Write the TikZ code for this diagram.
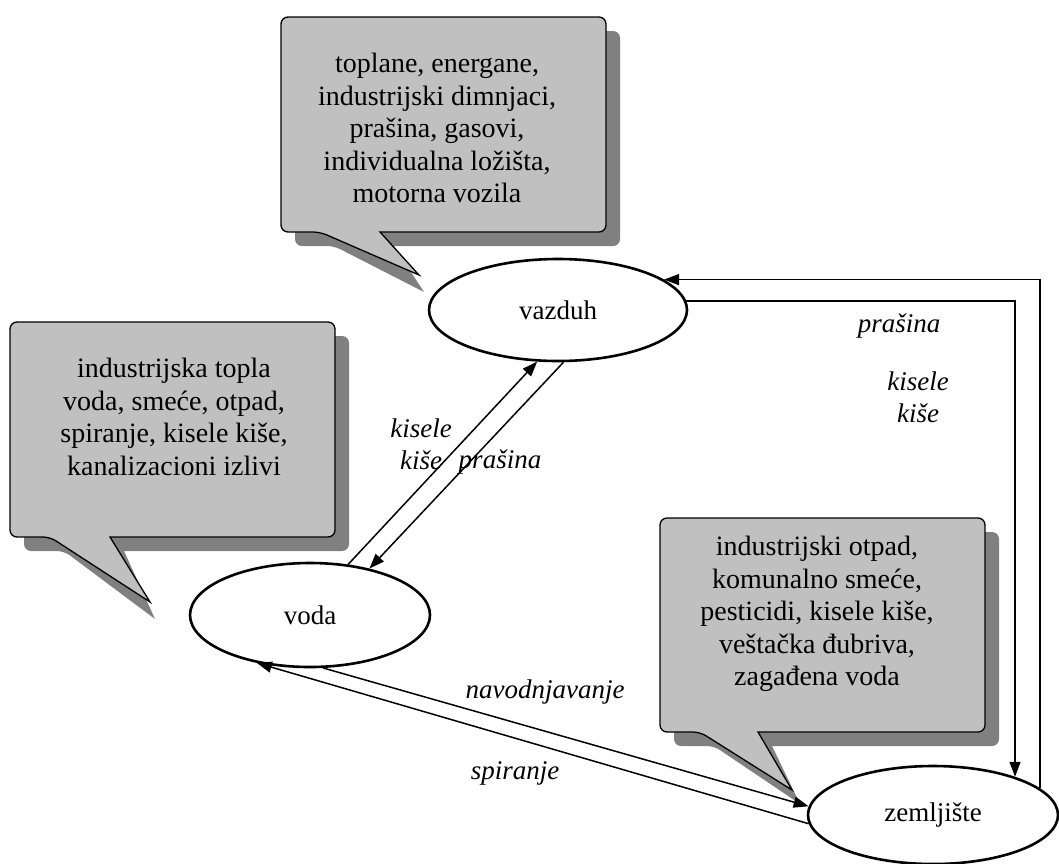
\documentclass[tikz,border=0pt]{standalone}
\usepackage{fontspec}
\setmainfont{Liberation Serif}
\usetikzlibrary{arrows.meta,shapes.geometric}
\definecolor{bubblegray}{RGB}{192,192,192}
\definecolor{shadegray}{RGB}{128,128,128}

\begin{document}
\begin{tikzpicture}[x=1pt,y=-1pt,
    font=\fontsize{27}{32.5}\selectfont,
    place/.style={draw,ellipse,line width=2.6pt,fill=white,inner sep=0pt},
    bubble/.style={draw,line width=1.3pt,fill=bubblegray},
    shade/.style={fill=shadegray},
    note/.style={align=center,font=\fontsize{28}{32.5}\selectfont},
    flow/.style={line width=1.5pt,-{Triangle[length=15pt,width=11pt]}},
    lbl/.style={font=\fontsize{27}{32}\selectfont\itshape,align=center}]
  \useasboundingbox (0,0) rectangle (1059,863);
  % oblaci sa izvorima
  \fill[shade] (394,246) [rounded corners=7pt] -- (620,246) -- (620,31) -- (295,31) -- (295,246) -- (334,246) [sharp corners] -- (424,292) -- cycle;
  \draw[bubble] (380,232) [rounded corners=7pt] -- (606,232) -- (606,17) -- (281,17) -- (281,232) -- (320,232) [sharp corners] -- (419,275) -- cycle;
  \fill[shade] (124,551) [rounded corners=7pt] -- (349,551) -- (349,336) -- (24,336) -- (24,551) -- (64,551) [sharp corners] -- (155,619) -- cycle;
  \draw[bubble] (110,537) [rounded corners=7pt] -- (335,537) -- (335,322) -- (10,322) -- (10,537) -- (50,537) [sharp corners] -- (150,602) -- cycle;
  \fill[shade] (772,746) [rounded corners=7pt] -- (999,746) -- (999,532) -- (674,532) -- (674,746) -- (714,746) [sharp corners] -- (800,804) -- cycle;
  \draw[bubble] (758,732) [rounded corners=7pt] -- (985,732) -- (985,518) -- (660,518) -- (660,732) -- (700,732) [sharp corners] -- (792,790) -- cycle;
  \node[note] (airsrc) at (437,128) {toplane, energane,\\industrijski dimnjaci,\\prašina, gasovi,\\individualna ložišta,\\motorna vozila};
  \node[note] (watsrc) at (174,417) {industrijska topla\\voda, smeće, otpad,\\spiranje, kisele kiše,\\kanalizacioni izlivi};
  \node[note] (soilsrc) at (817,614) {industrijski otpad,\\komunalno smeće,\\pesticidi, kisele kiše,\\veštačka đubriva,\\zagađena voda};
  % sredine
  \node[place,minimum width=258pt,minimum height=102pt] (vazduh) at (558,310) {vazduh};
  \node[place,minimum width=240pt,minimum height=104pt] (voda) at (310,615) {voda};
  \node[place,minimum width=250pt,minimum height=98pt] (zem) at (933,815) {zemljište};
  % tokovi
  \draw[flow] (voda.53) -- (vazduh.-112);
  \draw[flow] (vazduh.-84) -- (voda.38);
  \draw[flow] (voda.-76) -- (zem.176);
  \draw[flow] (zem.184) -- (voda.222);
  \draw[flow] (zem.14) |- (vazduh.16);
  \draw[flow] (vazduh.4) -| (zem.25);
  \node[lbl] (dustR) at (899,326) {prašina};
  \node[lbl] (acidR) at (918,397) {kisele\\kiše};
  \node[lbl] (acidL) at (421,444) {kisele\\kiše};
  \node[lbl] (dustL) at (500,462) {prašina};
  \node[lbl] (irrig) at (545,692) {navodnjavanje};
  \node[lbl] (wash) at (515,773) {spiranje};
\end{tikzpicture}
\end{document}
